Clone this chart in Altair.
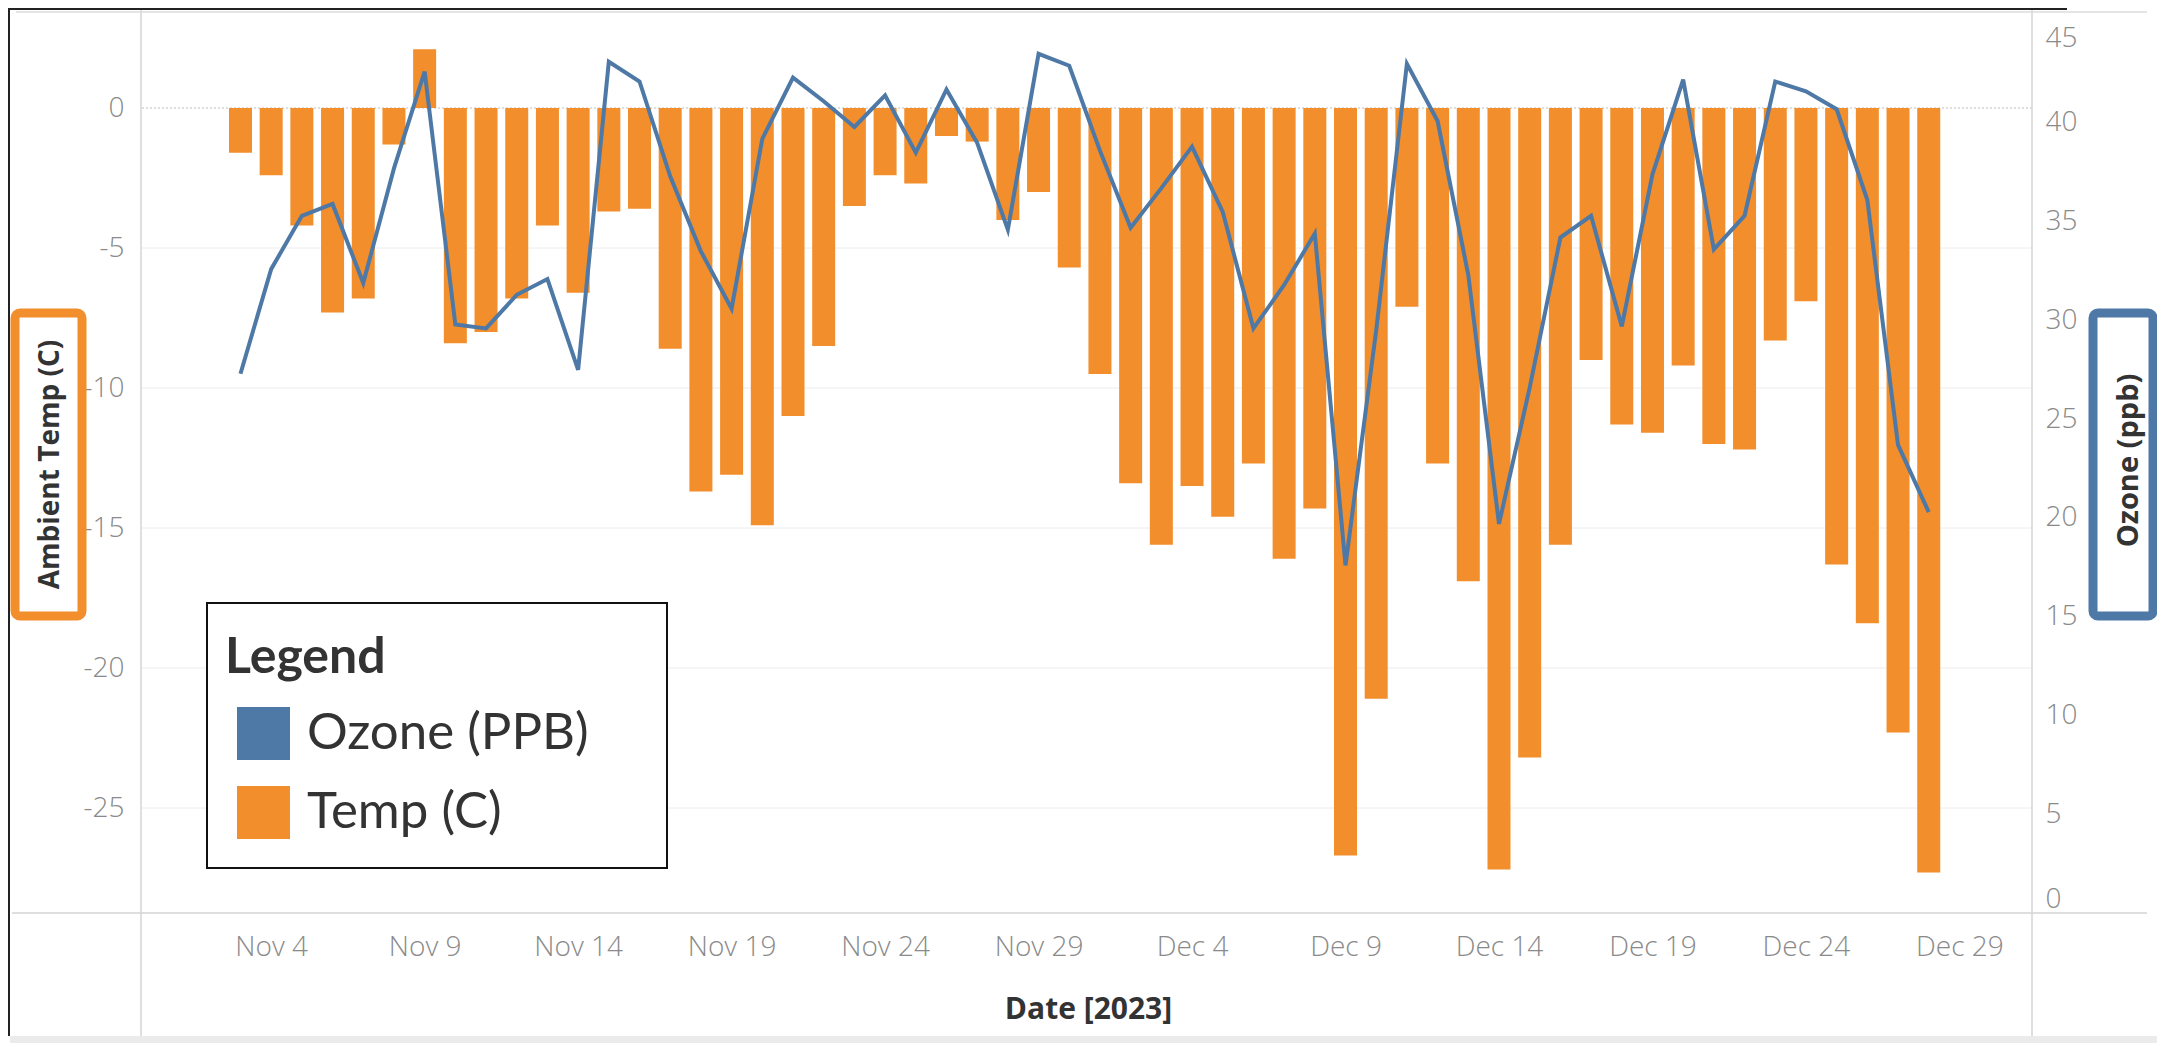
import altair as alt
import pandas as pd

# ---------------- data ----------------
dates = pd.date_range("2023-11-03", "2023-12-28", freq="D").strftime("%Y-%m-%d").tolist()

temp = [-1.6, -2.4, -4.2, -7.3, -6.8, -1.3, 2.1, -8.4, -8.0, -6.8,
        -4.2, -6.6, -3.7, -3.6, -8.6, -13.7, -13.1, -14.9, -11.0, -8.5,
        -3.5, -2.4, -2.7, -1.0, -1.2, -4.0, -3.0, -5.7, -9.5, -13.4,
        -15.6, -13.5, -14.6, -12.7, -16.1, -14.3, -26.7, -21.1, -7.1, -12.7,
        -16.9, -27.2, -23.2, -15.6, -9.0, -11.3, -11.6, -9.2, -12.0, -12.2,
        -8.3, -6.9, -16.3, -18.4, -22.3, -27.3]

ozone = [27.3, 32.6, 35.3, 35.9, 31.9, 37.7, 42.6, 29.8, 29.6, 31.3,
         32.1, 27.5, 43.1, 42.1, 37.3, 33.5, 30.6, 39.2, 42.3, 41.1,
         39.8, 41.4, 38.5, 41.7, 39.0, 34.6, 43.5, 42.9, 38.6, 34.7,
         36.7, 38.8, 35.5, 29.6, 31.8, 34.4, 17.6, 29.5, 43.0, 40.1,
         32.3, 19.7, 26.6, 34.2, 35.3, 29.7, 37.4, 42.2, 33.6, 35.3,
         42.1, 41.6, 40.7, 36.1, 23.7, 20.3]

x_ticks = ["2023-11-04", "2023-11-09", "2023-11-14", "2023-11-19", "2023-11-24",
           "2023-11-29", "2023-12-04", "2023-12-09", "2023-12-14", "2023-12-19",
           "2023-12-24", "2023-12-29"]
temp_ticks = [0, -5, -10, -15, -20, -25]
temp_grid = [-5, -10, -15, -20, -25]
ozone_ticks = [0, 5, 10, 15, 20, 25, 30, 35, 40, 45]
series = ["Ozone (PPB)", "Temp (C)"]

# ---------------- styling ----------------
W, H = 1891, 903
BLUE = "#4e79a7"
ORANGE = "#f28e2b"
LFONT = "Open Sans"
TFONT = "Open Sans"
LABEL_C = "#8a8a8a"
TITLE_C = "#333333"

df = pd.DataFrame({"date": dates, "temp": temp, "ozone": ozone, "series": series[1]})
one = pd.DataFrame({"k": [0]})


def ms(s):
    return int(pd.Timestamp(s, tz="UTC").timestamp() * 1000)


x_scale = alt.Scale(type="utc", domain=[ms("2023-10-30T22:08"), ms("2023-12-31T04:50")], nice=False)
t_scale = alt.Scale(domain=[-28.75, 3.5], nice=False, zero=False)
o_scale = alt.Scale(domain=[0, 45.72], nice=False, zero=False)

x_axis = alt.Axis(values=[ms(d) for d in x_ticks],
                  labelExpr="utcFormat(datum.value, '%b %-d')",
                  labelFont=LFONT, labelFontSize=28, labelFontWeight=300, labelColor=LABEL_C,
                  labelPadding=20, labelOverlap=False, labelFlush=False,
                  ticks=False, domain=False, grid=False,
                  title="Date [2023]", titleFont=TFONT, titleFontSize=30, titleFontWeight="bold",
                  titleColor=TITLE_C, titleX=947, titleY=96, titleAlign="center",
                  titleBaseline="middle")

t_axis = alt.Axis(orient="left", values=temp_ticks, labelExpr="datum.value + ''",
                  labelFont=LFONT, labelFontSize=28, labelFontWeight=300,
                  labelColor=LABEL_C, labelPadding=17, ticks=False, domain=False, grid=False,
                  title="Ambient Temp (C)", titleFont=TFONT, titleFontSize=28,
                  titleFontWeight="bold", titleColor=TITLE_C, titleAngle=270,
                  titleX=-91, titleY=454, titleAlign="center", titleBaseline="middle")

o_axis = alt.Axis(orient="right", values=ozone_ticks, labelExpr="datum.value + ''",
                  labelFont=LFONT, labelFontSize=28, labelFontWeight=300,
                  labelColor=LABEL_C, labelPadding=13, labelFlush=20, ticks=False,
                  domain=False, grid=False,
                  title="Ozone (ppb)", titleFont=TFONT, titleFontSize=29,
                  titleFontWeight="bold", titleColor=TITLE_C, titleAngle=270,
                  titleX=96, titleY=450, titleAlign="center", titleBaseline="middle")

legend = alt.Legend(title="Legend", orient="none", legendX=84, legendY=623, padding=0,
                    symbolType="square", symbolSize=2809, symbolStrokeWidth=0,
                    symbolOpacity=1, symbolOffset=12,
                    labelFont="Lato", labelFontSize=51, labelColor=TITLE_C, labelOffset=17,
                    titleFont="Lato", titleFontSize=50, titleFontWeight="bold",
                    titleColor=TITLE_C, titlePadding=24, rowPadding=26, labelLimit=420)

x_enc = alt.X("date:T", scale=x_scale, axis=x_axis)

# ---------------- layers ----------------
grid = alt.Chart(pd.DataFrame({"v": temp_grid})).mark_rule(color="#ececec", strokeWidth=1).encode(
    y=alt.Y("v:Q", scale=t_scale, axis=None))

zero = alt.Chart(pd.DataFrame({"v": [0]})).mark_rule(color="#bdbdbd", strokeWidth=1,
                                                     strokeDash=[2, 2]).encode(
    y=alt.Y("v:Q", scale=t_scale, axis=None))

bars = alt.Chart(df).mark_bar(size=23).encode(
    x=x_enc,
    y=alt.Y("temp:Q", scale=t_scale, axis=t_axis),
    color=alt.Color("series:N", scale=alt.Scale(domain=series, range=[BLUE, ORANGE]),
                    legend=legend),
)

line = alt.Chart(df).mark_line(color=BLUE, strokeWidth=4).encode(
    x=x_enc,
    y=alt.Y("ozone:Q", scale=o_scale, axis=o_axis),
)

frame = [
    # axis lines (Tableau style, running below the x axis)
    alt.Chart(one).mark_rule(color="#d4d4d4", strokeWidth=1.5).encode(
        x=alt.value(0), y=alt.value(0), y2=alt.value(1026)),
    alt.Chart(one).mark_rule(color="#d4d4d4", strokeWidth=1.5).encode(
        x=alt.value(W), y=alt.value(0), y2=alt.value(1026)),
    alt.Chart(one).mark_rule(color="#d4d4d4", strokeWidth=1.5).encode(
        x=alt.value(-129), x2=alt.value(2006), y=alt.value(H)),
    # outer frame
    alt.Chart(one).mark_rule(color="#222222", strokeWidth=2).encode(
        x=alt.value(-132), y=alt.value(-2), y2=alt.value(1026)),
    alt.Chart(one).mark_rule(color="#222222", strokeWidth=2).encode(
        x=alt.value(-133), x2=alt.value(1926), y=alt.value(-1)),
    alt.Chart(one).mark_rule(color="#dcdcdc", strokeWidth=1.5).encode(
        x=alt.value(-125), x2=alt.value(2006), y=alt.value(2)),
    alt.Chart(one).mark_rect(color="#ebebeb").encode(
        x=alt.value(-131), x2=alt.value(2016), y=alt.value(1026), y2=alt.value(1040)),
    # boxes around the axis titles
    alt.Chart(one).mark_rect(fill="white", fillOpacity=0, stroke=ORANGE, strokeWidth=9,
                             cornerRadius=5).encode(
        x=alt.value(-126), x2=alt.value(-59), y=alt.value(303), y2=alt.value(606)),
    alt.Chart(one).mark_rect(fill="white", fillOpacity=0, stroke=BLUE, strokeWidth=9,
                             cornerRadius=5).encode(
        x=alt.value(1952), x2=alt.value(2012), y=alt.value(303), y2=alt.value(606)),
    # legend box
    alt.Chart(one).mark_rect(fill="white", stroke="#111111", strokeWidth=2).encode(
        x=alt.value(66), x2=alt.value(526), y=alt.value(593), y2=alt.value(858)),
]

chart = alt.layer(grid, zero, bars, line, *frame).resolve_scale(
    y="independent"
).properties(
    width=W, height=H,
    autosize=alt.AutoSizeParams(type="none"),
    padding={"left": 133, "top": 2, "right": 125, "bottom": 130},
    background="white",
).configure_view(stroke="transparent")

chart.save("out.html", embed_options={"renderer": "svg", "actions": False})
